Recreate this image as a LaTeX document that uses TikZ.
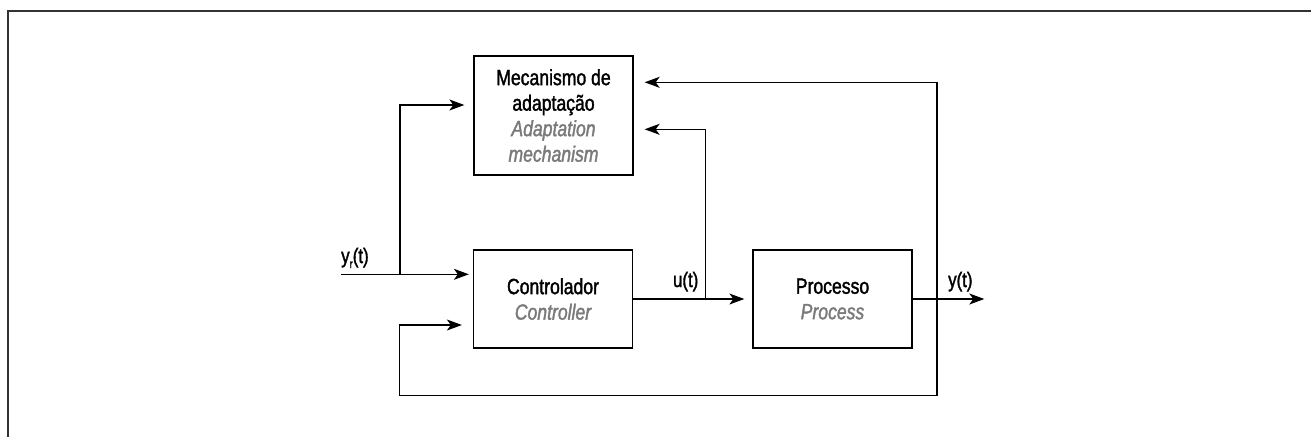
\documentclass[tikz,border=0pt]{standalone}
\usepackage{fontspec}
\setmainfont{Liberation Sans}[FakeStretch=0.8,FakeBold=1.6]
\usetikzlibrary{arrows.meta,calc}
\definecolor{engl}{HTML}{7A7A7A}
\definecolor{framec}{HTML}{333333}
\tikzset{
  blockbox/.style={draw, line width=1.3pt, minimum width=159pt, minimum height=98pt,
    align=center, inner sep=0pt, font=\fontsize{22}{25.5}\selectfont},
  arr/.style={line width=1.3pt, -{Stealth[length=15pt,width=11pt,inset=4pt]}},
  sig/.style={inner sep=0pt, font=\fontsize{21}{24}\selectfont}
}
\newcommand{\lowsub}[1]{\raisebox{-5pt}{\fontsize{12}{12}\selectfont #1}}
\begin{document}
\begin{tikzpicture}[x=1pt,y=-1pt]
\useasboundingbox (0,0) rectangle (1311,437);
% outer frame (top and left edges)
\draw[framec, line width=1.6pt] (1311,11) -- (8,11) -- (8,437);

% blocks
\node[blockbox, minimum height=119pt] (adapt) at (553.5,115.5)
  {Mecanismo de\\adaptação\\{\itshape\color{engl}Adaptation}\\{\itshape\color{engl}mechanism}};
\node[blockbox] (ctrl) at (553,299) {Controlador\\{\itshape\color{engl}Controller}};
\node[blockbox] (proc) at (832.5,299) {Processo\\{\itshape\color{engl}Process}};

% signal points
\coordinate (yrin) at (341,274.3);
\coordinate (j1) at (400,274.3);
\coordinate (j2) at (705.7,299);
\coordinate (j3) at (937,299);
\coordinate (yout) at (984.3,299);
\coordinate (fb) at (399.3,395.3);

% reference input
\draw[arr, shorten >=4pt] (yrin) -- (ctrl.west |- yrin);
\draw[arr, shorten >=9pt] (j1) |- ($(adapt.west)+(0,-10.5)$);
% control signal
\draw[arr, shorten >=8pt] (ctrl.east) -- (proc.west);
\draw[arr, shorten >=11pt] (j2) |- ($(adapt.east)+(0,13.8)$);
% output and feedback paths
\draw[arr] (proc.east) -- (yout);
\draw[arr, shorten >=11pt] (j3) |- ($(adapt.east)+(0,-33.2)$);
\draw[arr, shorten >=11pt] (j3) -- (j3 |- fb) -- (fb) |- ($(ctrl.west)+(0,26)$);

% signal labels
\node[sig, anchor=base west] (lyr) at (341,263) {y\lowsub{r}(t)};
\node[sig, anchor=base east] (lu) at (698.5,287) {u(t)};
\node[sig, anchor=base west] (ly) at (948,287) {y(t)};
\end{tikzpicture}
\end{document}
